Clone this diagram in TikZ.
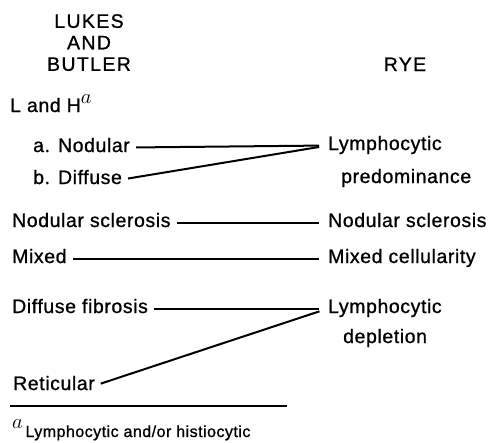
\documentclass[tikz,border=0pt]{standalone}
\usepackage{fontspec}
\setmainfont{Liberation Sans}[LetterSpace=3, FakeBold=0.9]
\usetikzlibrary{positioning}

\newcommand{\supa}[1]{\raisebox{#1}{\fontsize{20}{20}\selectfont$a$}}

\begin{document}
\begin{tikzpicture}[x=1pt, y=-1pt,
    entry/.style={inner sep=0pt, anchor=base west, text height=13pt, text depth=4pt,
      font=\fontsize{19.5}{22}\selectfont},
    head/.style={inner sep=0pt, align=center,
      font=\fontsize{19.5}{21.5}\selectfont\addfontfeature{LetterSpace=7}},
    link/.style={line width=2pt, shorten <=6pt, shorten >=9pt}]
  \useasboundingbox (0,0) rectangle (494,442);

  % column heads
  \node[head, anchor=north] (lukes) at (89,14) {LUKES\\AND\\BUTLER};
  \node[head, anchor=base] (rye) at (405,71) {RYE};

  % Lukes and Butler
  \node[entry] (lh) at (10,112) {L and H\supa{9pt}};
  \node[entry] (nod) at (33,152) {a. Nodular};
  \node[entry] (dif) at (33,184) {b. Diffuse};
  \node[entry] (ns) at (12,227) {Nodular sclerosis};
  \node[entry] (mx) at (12,263) {Mixed};
  \node[entry] (df) at (12,313) {Diffuse fibrosis};
  \node[entry] (ret) at (13,390) {Reticular};

  % Rye
  \node[entry] (lp) at (328,150) {Lymphocytic};
  \node[entry] (lp2) at (341,183) {predominance};
  \node[entry] (nsr) at (328,227) {Nodular sclerosis};
  \node[entry] (mc) at (328,263) {Mixed cellularity};
  \node[entry] (ld) at (328,313) {Lymphocytic};
  \node[entry] (ld2) at (343,343) {depletion};

  \draw[link] (nod.east) -- (lp.west);
  \draw[link] (dif.east) -- (lp.west);
  \draw[link] (ns.east) -- (nsr.west);
  \draw[link] (mx.east) -- (mc.west);
  \draw[link] (df.east) -- (ld.west);
  \draw[link] (ret.east) -- (ld.west);

  % footnote
  \draw[line width=2.4pt] (10,406) -- (287,406);
  \node[entry, text height=11pt, text depth=3pt, font=\fontsize{16}{18}\selectfont]
    (note) at (12,437) {\supa{9pt}\,Lymphocytic and/or histiocytic};
\end{tikzpicture}
\end{document}
